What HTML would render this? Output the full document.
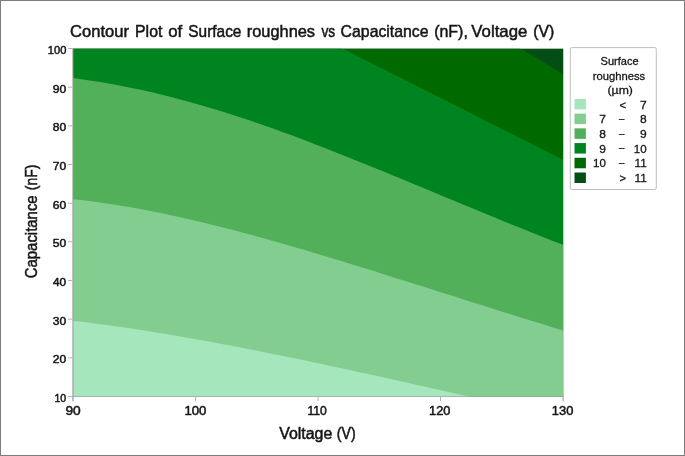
<!DOCTYPE html>
<html lang="en"><head><meta charset="utf-8"><title>Contour Plot of Surface roughnes vs Capacitance (nF), Voltage (V)</title>
<style>
html,body{margin:0;padding:0;background:#fff;}
body{width:685px;height:456px;overflow:hidden;position:relative;font-family:"Liberation Sans", sans-serif;}
svg{position:absolute;left:0;top:0;display:block}
text{font-family:"Liberation Sans", sans-serif;fill:#151515;stroke:#151515;stroke-width:0.5px;}
</style></head><body>
<svg width="685" height="456" viewBox="0 0 685 456">
<rect x="0" y="0" width="685" height="456" fill="#ffffff"/>
<rect x="0.5" y="0.5" width="684" height="455" fill="none" stroke="#7d7d7d" stroke-width="1"/>
<g>
<text y="36.90" font-size="16.60"><tspan x="70.10" textLength="58.85" lengthAdjust="spacingAndGlyphs">Contour</tspan> <tspan x="135.05" textLength="27.31" lengthAdjust="spacingAndGlyphs">Plot</tspan> <tspan x="168.29" textLength="13.99" lengthAdjust="spacingAndGlyphs">of</tspan> <tspan x="188.34" textLength="53.07" lengthAdjust="spacingAndGlyphs">Surface</tspan> <tspan x="246.76" textLength="68.29" lengthAdjust="spacingAndGlyphs">roughnes</tspan> <tspan x="321.41" textLength="13.78" lengthAdjust="spacingAndGlyphs">vs</tspan> <tspan x="340.62" textLength="87.95" lengthAdjust="spacingAndGlyphs">Capacitance</tspan> <tspan x="434.18" textLength="33.65" lengthAdjust="spacingAndGlyphs">(nF),</tspan> <tspan x="471.35" textLength="55.98" lengthAdjust="spacingAndGlyphs">Voltage</tspan> <tspan x="533.29" textLength="21.05" lengthAdjust="spacingAndGlyphs">(V)</tspan></text>
</g>
<clipPath id="cp"><rect x="73" y="48.8" width="490" height="348.2"/></clipPath>
<g clip-path="url(#cp)">
<rect x="73" y="48" width="491" height="349" fill="#034e15"/>
<path d="M72.0,401.5 L72.0,-218.59 L73.0,-218.59 L83.0,-212.62 L93.0,-206.65 L103.0,-200.68 L113.0,-194.71 L123.0,-188.73 L133.0,-182.76 L143.0,-176.79 L153.0,-170.82 L163.0,-164.85 L173.0,-158.88 L183.0,-152.91 L193.0,-146.94 L203.0,-140.96 L213.0,-134.99 L223.0,-129.02 L233.0,-123.05 L243.0,-117.08 L253.0,-111.11 L263.0,-105.14 L273.0,-99.17 L283.0,-93.19 L293.0,-87.22 L303.0,-81.25 L313.0,-75.28 L323.0,-69.31 L333.0,-63.34 L343.0,-57.37 L353.0,-51.40 L363.0,-45.42 L373.0,-39.45 L383.0,-33.48 L393.0,-27.51 L403.0,-21.54 L413.0,-15.57 L423.0,-9.60 L433.0,-3.63 L443.0,2.35 L453.0,8.32 L463.0,14.29 L473.0,20.26 L483.0,26.23 L493.0,32.20 L503.0,38.17 L513.0,44.14 L523.0,50.12 L533.0,56.09 L543.0,62.06 L553.0,68.03 L563.0,74.00 L564.0,74.00 L564.0,401.5 Z" fill="#006a00"/>
<path d="M72.0,401.5 L72.0,-87.24 L73.0,-87.24 L83.0,-82.20 L93.0,-77.16 L103.0,-72.12 L113.0,-67.08 L123.0,-62.04 L133.0,-57.00 L143.0,-51.96 L153.0,-46.92 L163.0,-41.88 L173.0,-36.84 L183.0,-31.80 L193.0,-26.76 L203.0,-21.72 L213.0,-16.68 L223.0,-11.64 L233.0,-6.60 L243.0,-1.56 L253.0,3.48 L263.0,8.52 L273.0,13.56 L283.0,18.60 L293.0,23.64 L303.0,28.68 L313.0,33.72 L323.0,38.76 L333.0,43.80 L343.0,48.84 L353.0,53.87 L363.0,58.91 L373.0,63.95 L383.0,68.99 L393.0,74.03 L403.0,79.07 L413.0,84.11 L423.0,89.15 L433.0,94.19 L443.0,99.23 L453.0,104.27 L463.0,109.31 L473.0,114.35 L483.0,119.39 L493.0,124.43 L503.0,129.47 L513.0,134.51 L523.0,139.55 L533.0,144.59 L543.0,149.63 L553.0,154.67 L563.0,159.71 L564.0,159.71 L564.0,401.5 Z" fill="#008420"/>
<path d="M72.0,401.5 L72.0,78.04 L73.0,78.04 L83.0,79.39 L93.0,80.88 L103.0,82.51 L113.0,84.26 L123.0,86.15 L133.0,88.16 L143.0,90.31 L153.0,92.58 L163.0,94.98 L173.0,97.50 L183.0,100.13 L193.0,102.89 L203.0,105.75 L213.0,108.72 L223.0,111.80 L233.0,114.97 L243.0,118.24 L253.0,121.60 L263.0,125.05 L273.0,128.58 L283.0,132.19 L293.0,135.86 L303.0,139.61 L313.0,143.41 L323.0,147.27 L333.0,151.19 L343.0,155.14 L353.0,159.14 L363.0,163.18 L373.0,167.25 L383.0,171.34 L393.0,175.45 L403.0,179.58 L413.0,183.72 L423.0,187.87 L433.0,192.02 L443.0,196.18 L453.0,200.32 L463.0,204.46 L473.0,208.59 L483.0,212.71 L493.0,216.80 L503.0,220.88 L513.0,224.94 L523.0,228.98 L533.0,232.99 L543.0,236.97 L553.0,240.94 L563.0,244.87 L564.0,244.87 L564.0,401.5 Z" fill="#52b05b"/>
<path d="M72.0,401.5 L72.0,199.13 L73.0,199.13 L83.0,200.26 L93.0,201.51 L103.0,202.89 L113.0,204.40 L123.0,206.01 L133.0,207.74 L143.0,209.57 L153.0,211.50 L163.0,213.53 L173.0,215.65 L183.0,217.86 L193.0,220.15 L203.0,222.51 L213.0,224.95 L223.0,227.46 L233.0,230.03 L243.0,232.67 L253.0,235.36 L263.0,238.11 L273.0,240.90 L283.0,243.74 L293.0,246.63 L303.0,249.55 L313.0,252.51 L323.0,255.50 L333.0,258.53 L343.0,261.58 L353.0,264.65 L363.0,267.74 L373.0,270.86 L383.0,273.98 L393.0,277.13 L403.0,280.28 L413.0,283.44 L423.0,286.60 L433.0,289.77 L443.0,292.94 L453.0,296.11 L463.0,299.28 L473.0,302.44 L483.0,305.60 L493.0,308.75 L503.0,311.90 L513.0,315.03 L523.0,318.15 L533.0,321.26 L543.0,324.35 L553.0,327.43 L563.0,330.49 L564.0,330.49 L564.0,401.5 Z" fill="#82cd8f"/>
<path d="M72.0,401.5 L72.0,320.63 L73.0,320.63 L83.0,321.87 L93.0,323.16 L103.0,324.50 L113.0,325.89 L123.0,327.34 L133.0,328.83 L143.0,330.36 L153.0,331.95 L163.0,333.57 L173.0,335.24 L183.0,336.94 L193.0,338.69 L203.0,340.47 L213.0,342.29 L223.0,344.15 L233.0,346.04 L243.0,347.95 L253.0,349.90 L263.0,351.88 L273.0,353.88 L283.0,355.91 L293.0,357.97 L303.0,360.05 L313.0,362.14 L323.0,364.26 L333.0,366.40 L343.0,368.55 L353.0,370.72 L363.0,372.90 L373.0,375.09 L383.0,377.30 L393.0,379.51 L403.0,381.73 L413.0,383.96 L423.0,386.19 L433.0,388.43 L443.0,390.66 L453.0,392.90 L463.0,395.14 L473.0,397.37 L483.0,399.60 L493.0,401.83 L503.0,404.04 L513.0,406.25 L523.0,408.45 L533.0,410.64 L543.0,412.81 L553.0,414.97 L563.0,417.11 L564.0,417.11 L564.0,401.5 Z" fill="#a6e6bc"/>
</g>
<path d="M73,48.5 H563" fill="none" stroke="#999999" stroke-opacity="0.3" stroke-width="1"/>
<path d="M563.5,48.5 V401.2" fill="none" stroke="#c8c8c8" stroke-width="1"/>
<path d="M72.9,48 V401.3" fill="none" stroke="#999999" stroke-width="1"/>
<path d="M68,396.5 H564" fill="none" stroke="#999999" stroke-opacity="0.6" stroke-width="1"/>
<line x1="68" x2="72" y1="396.50" y2="396.50" stroke="#b4b4b4" stroke-width="1"/>
<text x="54.42" y="401.90" font-size="11.60" textLength="11.72" lengthAdjust="spacingAndGlyphs">10</text>
<line x1="68" x2="72" y1="357.83" y2="357.83" stroke="#b4b4b4" stroke-width="1"/>
<text x="52.74" y="363.23" font-size="11.60" textLength="13.42" lengthAdjust="spacingAndGlyphs">20</text>
<line x1="68" x2="72" y1="319.17" y2="319.17" stroke="#b4b4b4" stroke-width="1"/>
<text x="52.74" y="324.57" font-size="11.60" textLength="13.42" lengthAdjust="spacingAndGlyphs">30</text>
<line x1="68" x2="72" y1="280.50" y2="280.50" stroke="#b4b4b4" stroke-width="1"/>
<text x="53.00" y="285.90" font-size="11.60" textLength="13.16" lengthAdjust="spacingAndGlyphs">40</text>
<line x1="68" x2="72" y1="241.83" y2="241.83" stroke="#b4b4b4" stroke-width="1"/>
<text x="52.74" y="247.23" font-size="11.60" textLength="13.42" lengthAdjust="spacingAndGlyphs">50</text>
<line x1="68" x2="72" y1="203.17" y2="203.17" stroke="#b4b4b4" stroke-width="1"/>
<text x="52.74" y="208.57" font-size="11.60" textLength="13.42" lengthAdjust="spacingAndGlyphs">60</text>
<line x1="68" x2="72" y1="164.50" y2="164.50" stroke="#b4b4b4" stroke-width="1"/>
<text x="52.74" y="169.90" font-size="11.60" textLength="13.42" lengthAdjust="spacingAndGlyphs">70</text>
<line x1="68" x2="72" y1="125.83" y2="125.83" stroke="#b4b4b4" stroke-width="1"/>
<text x="52.74" y="131.23" font-size="11.60" textLength="13.42" lengthAdjust="spacingAndGlyphs">80</text>
<line x1="68" x2="72" y1="87.17" y2="87.17" stroke="#b4b4b4" stroke-width="1"/>
<text x="52.74" y="92.57" font-size="11.60" textLength="13.42" lengthAdjust="spacingAndGlyphs">90</text>
<line x1="68" x2="72" y1="48.50" y2="48.50" stroke="#b4b4b4" stroke-width="1"/>
<text x="47.78" y="53.90" font-size="11.60" textLength="18.55" lengthAdjust="spacingAndGlyphs">100</text>
<line x1="73.00" x2="73.00" y1="397" y2="401.2" stroke="#b4b4b4" stroke-width="1"/>
<text x="65.42" y="414.80" font-size="12.40" textLength="15.31" lengthAdjust="spacingAndGlyphs">90</text>
<line x1="195.50" x2="195.50" y1="397" y2="401.2" stroke="#b4b4b4" stroke-width="1"/>
<text x="184.40" y="414.80" font-size="12.40" textLength="22.00" lengthAdjust="spacingAndGlyphs">100</text>
<line x1="318.00" x2="318.00" y1="397" y2="401.2" stroke="#b4b4b4" stroke-width="1"/>
<text x="307.46" y="414.80" font-size="12.40" textLength="19.40" lengthAdjust="spacingAndGlyphs">110</text>
<line x1="440.50" x2="440.50" y1="397" y2="401.2" stroke="#b4b4b4" stroke-width="1"/>
<text x="429.13" y="414.80" font-size="12.40" textLength="21.37" lengthAdjust="spacingAndGlyphs">120</text>
<line x1="563.00" x2="563.00" y1="397" y2="401.2" stroke="#b4b4b4" stroke-width="1"/>
<text x="551.82" y="414.80" font-size="12.40" textLength="21.58" lengthAdjust="spacingAndGlyphs">130</text>
<text y="438.60" font-size="15.60"><tspan x="279.16" textLength="53.19" lengthAdjust="spacingAndGlyphs">Voltage</tspan> <tspan x="336.72" textLength="18.91" lengthAdjust="spacingAndGlyphs">(V)</tspan></text>
<g transform="translate(37.2,0) rotate(-90)">
<text y="0.00" font-size="15.60"><tspan x="-278.28" textLength="82.90" lengthAdjust="spacingAndGlyphs">Capacitance</tspan> <tspan x="-190.17" textLength="25.63" lengthAdjust="spacingAndGlyphs">(nF)</tspan></text>
</g>
<rect x="570.3" y="47.6" width="86" height="141.9" rx="1.5" ry="1.5" fill="#ffffff" stroke="#bebebe" stroke-width="1"/>
<text x="600.52" y="65.20" font-size="11.50" textLength="38.06" lengthAdjust="spacingAndGlyphs" style="stroke-width:0.3px">Surface</text><text x="592.81" y="79.60" font-size="11.50" textLength="52.40" lengthAdjust="spacingAndGlyphs" style="stroke-width:0.3px">roughness</text><text x="607.57" y="94.20" font-size="11.50" textLength="25.29" lengthAdjust="spacingAndGlyphs" style="stroke-width:0.3px">(µm)</text>
<rect x="574.5" y="98.90" width="11.4" height="10.5" fill="#a6e6bc"/>
<text x="619.61" y="108.50" font-size="11.50" textLength="6.54" lengthAdjust="spacingAndGlyphs" style="stroke-width:0.3px">&lt;</text>
<text x="640.03" y="108.50" font-size="11.50" textLength="6.70" lengthAdjust="spacingAndGlyphs" style="stroke-width:0.3px">7</text>
<rect x="574.5" y="113.62" width="11.4" height="10.5" fill="#82cd8f"/>
<text x="599.23" y="123.22" font-size="11.50" textLength="6.70" lengthAdjust="spacingAndGlyphs" style="stroke-width:0.3px">7</text>
<text x="619.11" y="121.82" font-size="11.50" textLength="5.31" lengthAdjust="spacingAndGlyphs" style="stroke-width:0.4px">–</text>
<text x="640.04" y="123.22" font-size="11.50" textLength="6.68" lengthAdjust="spacingAndGlyphs" style="stroke-width:0.3px">8</text>
<rect x="574.5" y="128.34" width="11.4" height="10.5" fill="#52b05b"/>
<text x="599.24" y="137.94" font-size="11.50" textLength="6.68" lengthAdjust="spacingAndGlyphs" style="stroke-width:0.3px">8</text>
<text x="619.11" y="136.54" font-size="11.50" textLength="5.31" lengthAdjust="spacingAndGlyphs" style="stroke-width:0.4px">–</text>
<text x="640.03" y="137.94" font-size="11.50" textLength="6.70" lengthAdjust="spacingAndGlyphs" style="stroke-width:0.3px">9</text>
<rect x="574.5" y="143.06" width="11.4" height="10.5" fill="#008420"/>
<text x="599.23" y="152.66" font-size="11.50" textLength="6.70" lengthAdjust="spacingAndGlyphs" style="stroke-width:0.3px">9</text>
<text x="619.11" y="151.26" font-size="11.50" textLength="5.31" lengthAdjust="spacingAndGlyphs" style="stroke-width:0.4px">–</text>
<text x="633.80" y="152.66" font-size="11.50" textLength="12.80" lengthAdjust="spacingAndGlyphs" style="stroke-width:0.3px">10</text>
<rect x="574.5" y="157.78" width="11.4" height="10.5" fill="#006a00"/>
<text x="593.00" y="167.38" font-size="11.50" textLength="12.80" lengthAdjust="spacingAndGlyphs" style="stroke-width:0.3px">10</text>
<text x="619.11" y="165.98" font-size="11.50" textLength="5.31" lengthAdjust="spacingAndGlyphs" style="stroke-width:0.4px">–</text>
<text x="634.53" y="167.38" font-size="11.50" textLength="12.23" lengthAdjust="spacingAndGlyphs" style="stroke-width:0.3px">11</text>
<rect x="574.5" y="172.50" width="11.4" height="10.5" fill="#034e15"/>
<text x="619.61" y="182.10" font-size="11.50" textLength="6.54" lengthAdjust="spacingAndGlyphs" style="stroke-width:0.3px">&gt;</text>
<text x="634.53" y="182.10" font-size="11.50" textLength="12.23" lengthAdjust="spacingAndGlyphs" style="stroke-width:0.3px">11</text>
</svg>
</body></html>
